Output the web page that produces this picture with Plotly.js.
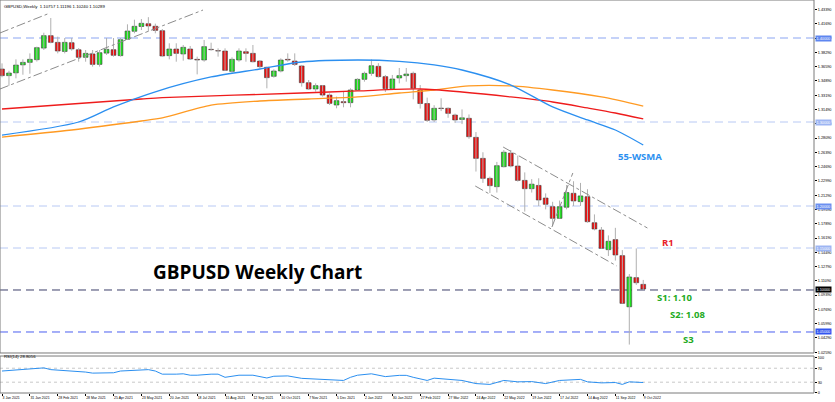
<!DOCTYPE html>
<html><head><meta charset="utf-8">
<script src="https://cdn.plot.ly/plotly-3.0.1.min.js"></script>
<style>html,body{margin:0;padding:0;background:#fff}#chart{width:835px;height:402px}</style>
</head><body><div id="chart"></div>
<script>
// ---- data (weekly candles, first week = 3 Jan 2021) ----
const firstWeek = '2021-01-03';
const open = [1.3631,1.3552,1.3585,1.3680,1.3710,1.3742,1.3880,1.4028,1.3948,1.3840,
 1.3944,1.3860,1.3770,1.3810,1.3686,1.3820,1.3861,1.3790,1.3985,1.4080,
 1.4137,1.4170,1.4140,1.4087,1.3790,1.3869,1.3810,1.3869,1.3746,1.3738,
 1.3865,1.3849,1.3845,1.3603,1.3738,1.3837,1.3817,1.3726,1.3651,1.3544,
 1.3607,1.3746,1.3726,1.3667,1.3468,1.3393,1.3433,1.3321,1.3202,1.3242,
 1.3230,1.3381,1.3508,1.3579,1.3663,1.3540,1.3397,1.3524,1.3552,1.3579,
 1.3380,1.3220,1.3024,1.3165,1.3163,1.3083,1.3030,1.3044,1.2817,1.2567,
 1.2329,1.2230,1.2468,1.2630,1.2476,1.2305,1.2206,1.2245,1.2095,1.1992,
 1.1853,1.1985,1.2151,1.2052,1.2111,1.1801,1.1714,1.1480,1.1600,1.1409,
 1.0800,1.1147,1.1067];
const high = [1.3698,1.3610,1.3746,1.3746,1.3817,1.3897,1.4063,1.4238,1.4016,1.4000,
 1.4000,1.3880,1.3857,1.3857,1.3857,1.4000,1.4000,1.4000,1.4163,1.4218,
 1.4226,1.4248,1.4171,1.4107,1.3937,1.3937,1.3917,1.3905,1.3778,1.3976,
 1.3944,1.3877,1.3877,1.3770,1.3877,1.3877,1.3917,1.3738,1.3659,1.3627,
 1.3758,1.3817,1.3817,1.3679,1.3500,1.3460,1.3440,1.3341,1.3302,1.3361,
 1.3401,1.3520,1.3600,1.3745,1.3700,1.3560,1.3560,1.3643,1.3643,1.3600,
 1.3440,1.3290,1.3200,1.3282,1.3175,1.3100,1.3150,1.3090,1.2880,1.2640,
 1.2350,1.2525,1.2666,1.2667,1.2600,1.2400,1.2320,1.2330,1.2150,1.2050,
 1.2065,1.2250,1.2295,1.2275,1.2200,1.1900,1.1750,1.1650,1.1740,1.1475,
 1.1190,1.1495,1.1120];
const low = [1.3532,1.3432,1.3520,1.3563,1.3575,1.3720,1.3857,1.3937,1.3817,1.3817,
 1.3849,1.3718,1.3718,1.3659,1.3659,1.3798,1.3778,1.3778,1.3980,1.4056,
 1.4095,1.4075,1.4056,1.3778,1.3746,1.3718,1.3730,1.3738,1.3567,1.3718,
 1.3849,1.3778,1.3607,1.3587,1.3718,1.3718,1.3710,1.3639,1.3401,1.3528,
 1.3591,1.3718,1.3667,1.3421,1.3381,1.3361,1.3302,1.3202,1.3163,1.3175,
 1.3175,1.3375,1.3480,1.3550,1.3530,1.3357,1.3390,1.3460,1.3480,1.3270,
 1.3160,1.3000,1.3000,1.3130,1.3050,1.2990,1.2975,1.2800,1.2410,1.2275,
 1.2155,1.2160,1.2460,1.2460,1.2290,1.1933,1.2160,1.2000,1.1960,1.1760,
 1.1850,1.1960,1.2000,1.2000,1.1800,1.1710,1.1490,1.1405,1.1350,1.0840,
 1.0350,1.1060,1.1000];
const close = [1.3552,1.3583,1.3678,1.3710,1.3746,1.3885,1.4028,1.3948,1.3845,1.3948,
 1.3870,1.3770,1.3817,1.3686,1.3825,1.3865,1.3794,1.3980,1.4083,1.4139,
 1.4175,1.4143,1.4091,1.3786,1.3869,1.3817,1.3889,1.3750,1.3738,1.3897,
 1.3861,1.3845,1.3615,1.3746,1.3845,1.3817,1.3718,1.3659,1.3528,1.3607,
 1.3738,1.3738,1.3686,1.3468,1.3393,1.3433,1.3321,1.3222,1.3254,1.3230,
 1.3381,1.3508,1.3579,1.3670,1.3540,1.3397,1.3512,1.3552,1.3571,1.3401,
 1.3220,1.3020,1.3163,1.3160,1.3103,1.3024,1.3050,1.2825,1.2567,1.2329,
 1.2242,1.2480,1.2640,1.2476,1.2305,1.2206,1.2260,1.2071,1.2020,1.1853,
 1.1992,1.2160,1.2060,1.2120,1.1813,1.1726,1.1496,1.1580,1.1417,1.0841,
 1.1155,1.1087,1.1012];

// moving averages (week index, value)
const wsma55Weeks = [0,11,16,22,30,37,43,51,57,62,66,73,79,84,88,92];
const wsma55 = [1.2845,1.3000,1.3180,1.3360,1.3536,1.3631,1.3714,1.3738,1.3722,1.3680,1.3619,1.3440,1.3179,1.3024,1.2905,1.2726];
const redMaWeeks = [0,20,23,43,51,60,66,73,79,84,88,92];
const redMa = [1.3155,1.3274,1.3290,1.3345,1.3370,1.3393,1.3357,1.3298,1.3238,1.3167,1.3107,1.3036];
const orangeMaWeeks = [0,10,20,23,30,37,44,51,57,62,67,73,79,86,92];
const orangeMa = [1.2821,1.2905,1.3012,1.3048,1.3200,1.3250,1.3274,1.3298,1.3345,1.3381,1.3429,1.3429,1.3381,1.3298,1.3190];

// RSI(14) (week index, value)
const rsiWeeks = [0,3,6,7,9,12,13,15,16,17,19,21,22,23,25,26,27,28,30,31,32,34,36,38,39,41,43,46,47,49,50,51,53,54,55,57,58,59,60,61,62,64,66,68,70,72,74,76,78,80,83,84,86,88,89,90,92];
const rsiVals = [62,66,71,66,64,59,56,57.5,57,62,65,66,62,53,53,54,50,50,53,53,44,50,50,42,47,48,41,38,35,35,44,50,54,50,46,49.6,49.6,44,40,35,41.5,38,35,26,23.6,35,31,31.7,26,35,38,31,28,29,23.6,31,29];

// axis tick labels
const priceTicks = [1.02590,1.04290,1.05990,1.07690,1.09390,1.11090,1.12790,1.14490,1.16190,1.17890,1.19590,1.21290,1.22990,1.24690,1.26390,1.28090,1.29790,1.31490,1.33190,1.34890,1.36590,1.38290,1.39990,1.41690,1.43390];
const dateLabels = ['3 Jan 2021','31 Jan 2021','28 Feb 2021','28 Mar 2021','25 Apr 2021','23 May 2021','20 Jun 2021','18 Jul 2021','15 Aug 2021','12 Sep 2021','10 Oct 2021','7 Nov 2021','5 Dec 2021','2 Jan 2022','30 Jan 2022','27 Feb 2022','27 Mar 2022','24 Apr 2022','22 May 2022','19 Jun 2022','17 Jul 2022','14 Aug 2022','11 Sep 2022','9 Oct 2022'];
const rsiTicks = [0,30,70,100];

// horizontal levels and trend lines (week index / price)
const levels = [1.40,1.30,1.20,1.15,1.10,1.05];
const trendLines = [[-0.29,1.4060,6.9,1.4298],[-0.29,1.3393,28.84,1.4333],[71.9,1.2702,92.6,1.1738],[67.9,1.2238,88.2,1.1286],[78.9,1.1750,81.9,1.2393]];

// ---- drawing ----
const DAY = 864e5;
const t0 = Date.parse(firstWeek + 'T00:00:00Z');
const wk = w => new Date(t0 + w*7*DAY).toISOString().slice(0,19).replace('T',' ');
const dates = open.map((_,i)=>wk(i));

const wx=[], wy=[];
dates.forEach((d,i)=>{wx.push(d,d,null); wy.push(low[i],high[i],null);});
const upX=[],upB=[],upL=[],dnX=[],dnB=[],dnL=[];
dates.forEach((d,i)=>{
  const b=Math.min(open[i],close[i]); const l=Math.max(Math.abs(close[i]-open[i]),0.0002);
  if(close[i]>open[i]){upX.push(d);upB.push(b);upL.push(l);} else {dnX.push(d);dnB.push(b);dnL.push(l);}
});
const bw = 4.8*DAY;
const traces = [
  {type:'scatter',mode:'lines',x:wx,y:wy,line:{color:'#b0b0b0',width:1},hoverinfo:'skip',xaxis:'x',yaxis:'y'},
  {type:'scatter',mode:'lines',x:orangeMaWeeks.map(wk),y:orangeMa,line:{color:'#ff9a22',width:1.3,shape:'spline',smoothing:0.8},xaxis:'x',yaxis:'y'},
  {type:'scatter',mode:'lines',x:redMaWeeks.map(wk),y:redMa,line:{color:'#ee1c1c',width:1.3,shape:'spline',smoothing:0.8},xaxis:'x',yaxis:'y'},
  {type:'scatter',mode:'lines',x:wsma55Weeks.map(wk),y:wsma55,line:{color:'#2b8ff0',width:1.3,shape:'spline',smoothing:0.8},xaxis:'x',yaxis:'y'},
  {type:'bar',x:upX,y:upL,base:upB,width:bw,marker:{color:'#1fe01f',line:{color:'#3a3a3a',width:0.6}},xaxis:'x',yaxis:'y'},
  {type:'bar',x:dnX,y:dnL,base:dnB,width:bw,marker:{color:'#ee1111',line:{color:'#3a3a3a',width:0.6}},xaxis:'x',yaxis:'y'},
  {type:'scatter',mode:'lines',x:rsiWeeks.map(wk),y:rsiVals,line:{color:'#2b8ff0',width:1},xaxis:'x',yaxis:'y2'}
];

const levelLine = ['#8ba5f2','#b8c9f4','#b8c9f4','#b8c9f4','#3c3f6a','#4a5ff0'];
const levelBox = ['#5e86f0','#9db5f3','#6b8ff0','#9db5f3','#000000','#3355f0'];
const shapes = [];
levels.forEach((v,i)=>shapes.push({type:'line',xref:'x domain',yref:'y',x0:0,x1:1,y0:v,y1:v,layer:'below',line:{color:levelLine[i],width:1,dash:'8px,5px'}}));
trendLines.forEach(t=>shapes.push({type:'line',xref:'x',yref:'y',x0:wk(t[0]),y0:t[1],x1:wk(t[2]),y1:t[3],line:{color:'#8c8c8c',width:1,dash:'dashdot'}}));
[70,30].forEach(v=>shapes.push({type:'line',xref:'x domain',yref:'y2',x0:0,x1:1,y0:v,y1:v,layer:'below',line:{color:'#c8c8c8',width:1,dash:'dot'}}));
shapes.push({type:'rect',xref:'x domain',yref:'y domain',x0:0,x1:1,y0:0,y1:1,line:{color:'#7a7a7a',width:1}});
shapes.push({type:'rect',xref:'x domain',yref:'y2 domain',x0:0,x1:1,y0:0,y1:1,line:{color:'#7a7a7a',width:1}});

const sm = {family:'Liberation Sans, Arial, sans-serif',size:4.3,color:'#000'};
const annotations = [
  {xref:'paper',yref:'paper',x:0.003,y:0.995,xanchor:'left',yanchor:'top',showarrow:false,text:'GBPUSD,Weekly  1.10757 1.11196 1.10240 1.10289',font:sm},
  {xref:'paper',yref:'paper',x:0.003,y:0.092,xanchor:'left',yanchor:'middle',showarrow:false,text:'RSI(14) 28.8056',font:sm},
  {xref:'paper',yref:'paper',x:0.186,y:0.308,xanchor:'left',yanchor:'middle',showarrow:false,text:'<b>GBPUSD Weekly Chart</b>',font:{family:'Open Sans',size:19,color:'#000'}},
  {xref:'paper',yref:'paper',x:0.757,y:0.603,xanchor:'left',yanchor:'middle',showarrow:false,text:'<b>55-WSMA</b>',font:{family:'Open Sans',size:9.5,color:'#2b8ff0'}},
  {xref:'paper',yref:'paper',x:0.811,y:0.382,xanchor:'left',yanchor:'middle',showarrow:false,text:'<b>R1</b>',font:{family:'Open Sans',size:9.5,color:'#e8202a'}},
  {xref:'paper',yref:'paper',x:0.805,y:0.242,xanchor:'left',yanchor:'middle',showarrow:false,text:'<b>S1: 1.10</b>',font:{family:'Open Sans',size:9.5,color:'#22aa22'}},
  {xref:'paper',yref:'paper',x:0.821,y:0.199,xanchor:'left',yanchor:'middle',showarrow:false,text:'<b>S2: 1.08</b>',font:{family:'Open Sans',size:9.5,color:'#22aa22'}},
  {xref:'paper',yref:'paper',x:0.836,y:0.137,xanchor:'left',yanchor:'middle',showarrow:false,text:'<b>S3</b>',font:{family:'Open Sans',size:9.5,color:'#22aa22'}}
];
levels.forEach((v,i)=>annotations.push({xref:'paper',yref:'y',x:1,y:v,xanchor:'left',yanchor:'middle',xshift:1,showarrow:false,text:v.toFixed(5),bgcolor:levelBox[i],borderpad:0.5,font:{family:'Liberation Sans, Arial, sans-serif',size:3.8,color:'#fff'}}));

const axFont = {family:'Liberation Sans, Arial, sans-serif',size:3.8,color:'#000'};
const xFont = {family:'Liberation Sans, Arial, sans-serif',size:3.5,color:'#000'};
const layout = {
  width:835,height:402,margin:{l:0,r:21,t:0,b:9,pad:0},
  paper_bgcolor:'#fff',plot_bgcolor:'#fff',showlegend:false,barmode:'overlay',
  xaxis:{type:'date',range:[wk(-0.287),wk(116.5)],anchor:'y2',tickvals:dateLabels.map((_,k)=>wk(4*k)),ticktext:dateLabels,tickangle:0,
    ticks:'outside',ticklen:2,tickcolor:'#000',tickfont:xFont,ticklabelposition:'outside right',ticklabelstandoff:1,showgrid:false,zeroline:false,showline:false,fixedrange:true},
  yaxis:{domain:[0.1018,1],range:[1.025,1.44524],side:'right',anchor:'x',tickvals:priceTicks,ticktext:priceTicks.map(v=>v.toFixed(5)),
    ticks:'outside',ticklen:2,tickcolor:'#000',tickfont:axFont,showgrid:false,zeroline:false,showline:false,fixedrange:true},
  yaxis2:{domain:[0,0.0941],range:[-1,105],side:'right',anchor:'x',tickvals:rsiTicks,ticktext:rsiTicks.map(String),
    ticks:'outside',ticklen:2,tickcolor:'#000',tickfont:axFont,showgrid:false,zeroline:false,showline:false,fixedrange:true},
  shapes:shapes,annotations:annotations
};
Plotly.newPlot('chart',traces,layout,{staticPlot:true,displayModeBar:false});
</script>
</body></html>
